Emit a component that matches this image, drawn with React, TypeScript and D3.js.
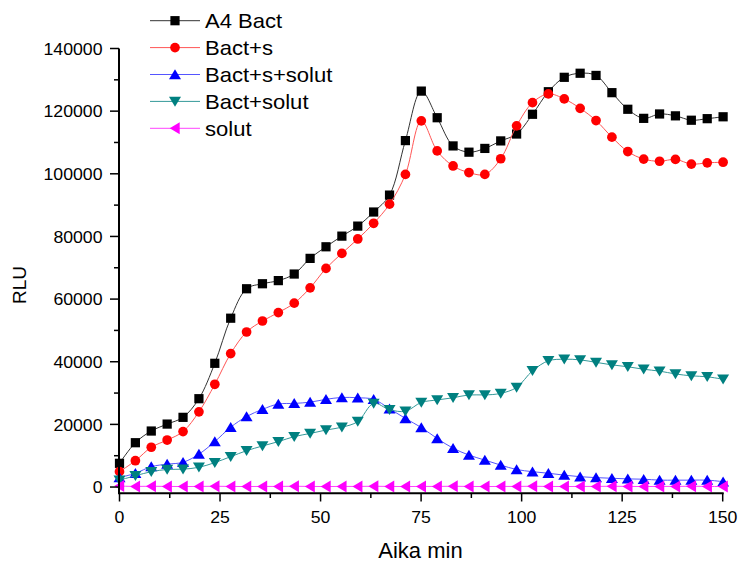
import React from "react";
import * as d3 from "d3";

const times = [0, 3.95, 7.9, 11.85, 15.8, 19.75, 23.7, 27.65, 31.6, 35.55, 39.5, 43.45, 47.4, 51.35, 55.3, 59.25, 63.2, 67.15, 71.1, 75.05, 79, 82.95, 86.9, 90.85, 94.8, 98.75, 102.7, 106.65, 110.6, 114.55, 118.5, 122.45, 126.4, 130.35, 134.3, 138.25, 142.2, 146.15, 150.1];

const a4Bact = [7570, 14150, 17880, 20100, 22250, 28200, 39500, 53900, 63300, 64900, 65900, 68000, 73000, 76700, 80100, 83300, 87800, 93200, 110600, 126400, 117900, 108900, 106900, 108100, 110500, 112700, 119000, 126200, 130800, 132100, 131400, 125900, 120600, 117700, 119100, 118500, 117100, 117600, 118200];
const bactS = [4900, 8400, 12700, 15000, 17700, 24000, 32800, 42600, 49500, 53000, 55700, 58700, 63600, 69800, 74600, 79200, 84200, 90300, 99800, 116900, 107300, 102500, 100400, 99800, 104800, 115300, 122700, 125500, 123900, 120900, 117000, 111700, 107100, 104700, 104000, 104600, 103100, 103500, 103700];
const bactSSolut = [3000, 4400, 6500, 7300, 7900, 10500, 14500, 19100, 22500, 24800, 26500, 26700, 27100, 28000, 28600, 28500, 28000, 25000, 21900, 19000, 15500, 12400, 10200, 8600, 7000, 5600, 4900, 4400, 3800, 3300, 3000, 2800, 2600, 2500, 2200, 2200, 2200, 2200, 1700];
const bactSolut = [2200, 3600, 4900, 5600, 5700, 6300, 7800, 9700, 11600, 13100, 14500, 16100, 17100, 18200, 19100, 20900, 26700, 24700, 24200, 27000, 27800, 28500, 29400, 29400, 29900, 31800, 37100, 40300, 40800, 40600, 39800, 39000, 38400, 37600, 37000, 36100, 35500, 35200, 34400];
const solut = [300, 200, 250, 200, 150, 200, 250, 200, 150, 200, 200, 250, 200, 150, 200, 200, 250, 200, 150, 200, 200, 250, 200, 150, 200, 200, 250, 200, 150, 200, 200, 250, 200, 150, 200, 200, 250, 200, 150];

const seriesNames = ["A4 Bact", "Bact+s", "Bact+s+solut", "Bact+solut", "solut"];
const seriesColors = ["#000000", "#ff0000", "#0000ff", "#008080", "#ff00ff"];
const lineColors = ["#333333", "#ff5555", "#5555ff", "#339999", "#ff44ff"];

const xTicks = [0, 25, 50, 75, 100, 125, 150];
const xMinor = [12.5, 37.5, 62.5, 87.5, 112.5, 137.5];
const yTicks = [0, 20000, 40000, 60000, 80000, 100000, 120000, 140000];
const yMinor = [10000, 30000, 50000, 70000, 90000, 110000, 130000];

const FONT = "'Liberation Sans', Arial, sans-serif";

const W = 739;
const H = 564;

const x = d3.scaleLinear().domain([0, 150]).range([119.5, 722.7]);
const y = d3.scaleLinear().domain([-2000, 140000]).range([493.3, 48.5]);

const seriesData = [a4Bact, bactS, bactSSolut, bactSolut, solut];

// triangle: width 12, height 10, centred on bbox
const triUp = "M0,-5.3L6,4.7L-6,4.7Z";

function markerPath(k: number): { d: string; rot: number } {
  switch (k) {
    case 0:
      return { d: d3.symbol(d3.symbolSquare, 85)() as string, rot: 0 };
    case 1:
      return { d: d3.symbol(d3.symbolCircle, 74)() as string, rot: 0 };
    case 2:
      return { d: triUp, rot: 0 };
    case 3:
      return { d: triUp, rot: 180 };
    default:
      return { d: triUp, rot: -90 };
  }
}

export default function App() {
  const line = d3
    .line<[number, number]>()
    .x((d) => x(d[0]))
    .y((d) => y(d[1]))
    .curve(d3.curveCatmullRom.alpha(0.5));

  return (
    <svg
      width={W}
      height={H}
      style={{ position: "absolute", left: 0, top: 0, background: "#fff" }}
      fontFamily={FONT}
    >
      <rect width={W} height={H} fill="#fff" />
      {/* series */}
      {seriesData.map((vals, k) => {
        const pts: [number, number][] = vals.map((v, i) => [times[i], v]);
        const m = markerPath(k);
        return (
          <g key={k}>
            <path d={line(pts) as string} fill="none" stroke={lineColors[k]} strokeWidth={1} />
            {pts.map((p, i) => (
              <path
                key={i}
                d={m.d}
                fill={seriesColors[k]}
                transform={`translate(${x(p[0])},${y(p[1])}) rotate(${m.rot})`}
              />
            ))}
          </g>
        );
      })}

      {/* axes */}
      <line x1={119} x2={119} y1={y(140000)} y2={y(-2000)} stroke="#000" strokeWidth={2} />
      <line x1={118} x2={x(150) + 1} y1={493.3} y2={493.3} stroke="#000" strokeWidth={2} />
      {yTicks.map((t) => (
        <g key={"y" + t}>
          <line x1={110} x2={119} y1={y(t)} y2={y(t)} stroke="#000" strokeWidth={1.5} />
          <text
            transform={`translate(102.5,${y(t)}) scale(1.04,1)`}
            dy="0.36em"
            textAnchor="end"
            fontSize={17}
            fill="#000"
          >
            {t}
          </text>
        </g>
      ))}
      {yMinor.map((t) => (
        <line key={"ym" + t} x1={114} x2={119} y1={y(t)} y2={y(t)} stroke="#000" strokeWidth={1.5} />
      ))}
      {xTicks.map((t) => (
        <g key={"x" + t}>
          <line x1={x(t)} x2={x(t)} y1={493} y2={501.5} stroke="#000" strokeWidth={1.5} />
          <text
            transform={`translate(${x(t)},522.5) scale(1.04,1)`}
            textAnchor="middle"
            fontSize={17}
            fill="#000"
          >
            {t}
          </text>
        </g>
      ))}
      {xMinor.map((t) => (
        <line key={"xm" + t} x1={x(t)} x2={x(t)} y1={493} y2={498} stroke="#000" strokeWidth={1.5} />
      ))}

      {/* axis titles */}
      <text x={420.5} y={558} textAnchor="middle" fontSize={22} fill="#000">
        Aika min
      </text>
      <text
        transform="translate(25.5,285) rotate(-90)"
        textAnchor="middle"
        fontSize={19}
        fill="#000"
      >
        RLU
      </text>

      {/* legend */}
      {seriesNames.map((name, k) => {
        const ly = 20.7 + k * 26.9;
        const m = markerPath(k);
        return (
          <g key={"lg" + k}>
            <line x1={150} x2={200} y1={ly} y2={ly} stroke={lineColors[k]} strokeWidth={1} />
            <path d={m.d} fill={seriesColors[k]} transform={`translate(175,${ly}) rotate(${m.rot})`} />
            <text
              transform={`translate(205,${ly}) scale(1.05,1)`}
              dy="0.36em"
              fontSize={21}
              fill="#000"
            >
              {name}
            </text>
          </g>
        );
      })}
    </svg>
  );
}
